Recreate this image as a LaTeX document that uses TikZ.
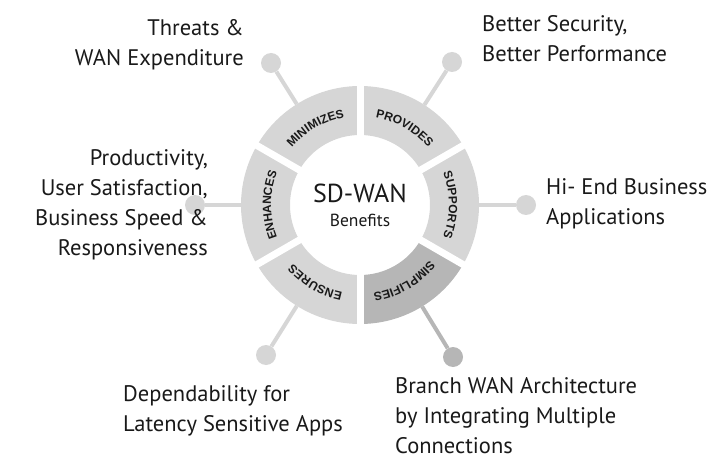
\documentclass[tikz,border=0pt]{standalone}
\usepackage{fontspec}
\setmainfont{PT Sans}
\newfontfamily\ringfont{Liberation Sans}
\usetikzlibrary{calc,positioning,decorations.text}
\definecolor{seggray}{RGB}{214,214,214}
\definecolor{segdark}{RGB}{182,182,182}
\definecolor{txtgray}{RGB}{25,25,25}
\newcommand{\ringlabel}{\ringfont\bfseries\fontsize{12}{13}\selectfont}

\begin{document}
\begin{tikzpicture}[x=1pt, y=1pt,
    spoke/.style={line width=4pt},
    bubble/.style={circle, minimum size=20pt, inner sep=0pt},
    note/.style={font=\fontsize{22.5}{30}\selectfont, text=txtgray, inner sep=0pt}]
  \useasboundingbox (0,0) rectangle (725,461);
  \coordinate (c) at (360,256);
  % ring
  \foreach \a/\col in {30/seggray, 90/seggray, 150/seggray, 210/seggray, 270/segdark, 330/seggray}
    \fill[\col] ($(c)+(\a:119)$) arc[start angle=\a, end angle=\a+60, radius=119]
      -- ($(c)+(\a+60:70)$) arc[start angle=\a+60, end angle=\a, radius=70] -- cycle;
  \foreach \a in {30,90,...,330}
    \draw[white, line width=7pt] ($(c)+(\a:64)$) -- ($(c)+(\a:125)$);
  \foreach \m/\word in {60/PROVIDES, 120/MINIMIZES, 180/ENHANCES, 240/ENSURES, 300/SIMPLIFIES, 0/SUPPORTS}
    \path[decorate, decoration={text along path, text align=center, text color=txtgray,
        text/.expanded={|\noexpand\ringlabel|\word}}]
      ($(c)+(\m+29.5:89)$) arc[start angle=\m+29.5, end angle=\m-29.5, radius=89];
  % centre
  \node[font=\fontsize{26}{28}\selectfont, text=txtgray, anchor=base] (title) at (360,258) {SD-WAN};
  \node[font=\fontsize{17.5}{20}\selectfont, text=txtgray, below=4pt of title] (sub) {Benefits};
  % dots and spokes
  \node[bubble, fill=seggray] (dprov) at (452,399) {};
  \node[bubble, fill=seggray] (dmin) at (271,398) {};
  \node[bubble, fill=seggray] (denh) at (195,256) {};
  \node[bubble, fill=seggray] (dens) at (266,106) {};
  \node[bubble, fill=segdark] (dsimp) at (453,104) {};
  \node[bubble, fill=seggray] (dsup) at (526,256) {};
  \foreach \d in {dprov, dmin, denh, dens, dsup}
    \draw[spoke, seggray] ($(c)!119pt!(\d)$) -- (\d);
  \draw[spoke, segdark] ($(c)!119pt!(dsimp)$) -- (dsimp);
  % texts
  \node[note, anchor=north east, align=right] (threats) at (244,442) {Threats \&\\WAN Expenditure};
  \node[note, anchor=north west, align=left] (security) at (482,446) {Better Security,\\Better Performance};
  \node[note, anchor=north west, align=left] (apps) at (546,283) {Hi- End Business\\Applications};
  \node[note, anchor=north east, align=right] (prod) at (208,312) {Productivity,\\User Satisfaction,\\Business Speed \&\\Responsiveness};
  \node[note, anchor=north west, align=left] (depend) at (123,76) {Dependability for\\Latency Sensitive Apps};
  \node[note, anchor=north west, align=left] (branch) at (395,84) {Branch WAN Architecture\\by Integrating Multiple\\Connections};
\end{tikzpicture}
\end{document}
